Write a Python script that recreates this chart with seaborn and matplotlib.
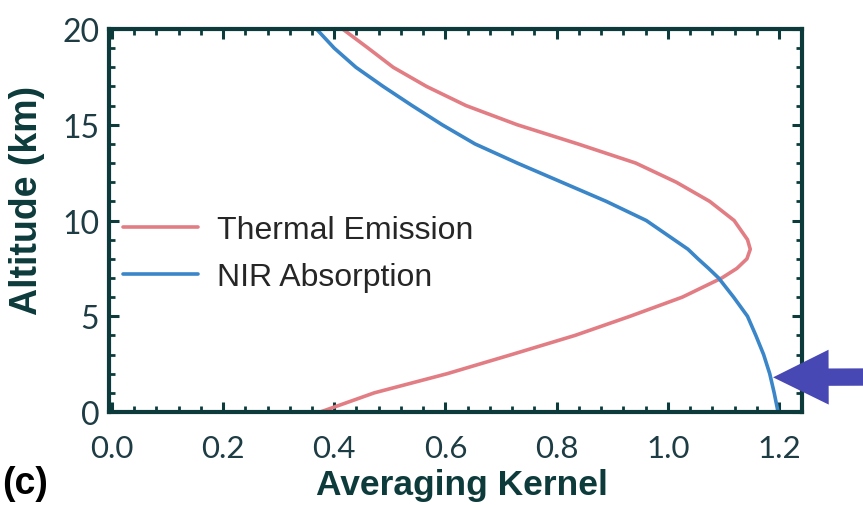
import matplotlib
matplotlib.use("Agg")
import matplotlib.pyplot as plt
from matplotlib.ticker import MultipleLocator
from matplotlib.patches import ArrowStyle
import numpy as np
import pandas as pd
import seaborn as sns

# Averaging kernel profiles versus altitude
altitude_km = [0, 1, 2, 3, 4, 5, 6, 7, 7.5, 8, 8.5, 9, 10, 11, 12, 13, 14, 15, 16, 17, 18, 19, 20]
thermal_emission = [0.375, 0.472, 0.603, 0.719, 0.833, 0.932, 1.026, 1.097, 1.124, 1.142, 1.148,
                    1.143, 1.119, 1.075, 1.015, 0.942, 0.838, 0.729, 0.637, 0.566, 0.506, 0.461, 0.415]
nir_absorption = [1.198, 1.191, 1.183, 1.172, 1.158, 1.143, 1.118, 1.091, 1.073, 1.054, 1.036,
                  1.011, 0.961, 0.889, 0.809, 0.729, 0.653, 0.594, 0.540, 0.488, 0.439, 0.400, 0.368]
series_names = ["Thermal Emission", "NIR Absorption"]
x_ticks = [0.0, 0.2, 0.4, 0.6, 0.8, 1.0, 1.2]
y_ticks = [0, 5, 10, 15, 20]

df = pd.DataFrame({
    "altitude": altitude_km * 2,
    "kernel": thermal_emission + nir_absorption,
    "series": [series_names[0]] * len(altitude_km) + [series_names[1]] * len(altitude_km),
})

sns.set_theme(style="white")
frame_col = "#0d3b3c"
tick_col = "#1e3c44"

fig = plt.figure(figsize=(8.63, 5.06), dpi=100)
ax = fig.add_axes([0.1263, 0.1838, 0.8030, 0.7569])

sns.lineplot(data=df, x="kernel", y="altitude", hue="series", orient="y", sort=False,
             palette={series_names[0]: "#e27d84", series_names[1]: "#3a86c8"},
             linewidth=2.6, ax=ax)

ax.set_xlim(-0.005, 1.241)
ax.set_ylim(0, 20)
ax.set_xticks(x_ticks)
ax.set_xticklabels([f"{v:.1f}" for v in x_ticks])
ax.set_yticks(y_ticks)
ax.xaxis.set_minor_locator(MultipleLocator(0.04))
ax.yaxis.set_minor_locator(MultipleLocator(1))

for s in ax.spines.values():
    s.set_color(frame_col)
    s.set_linewidth(3.0)
    s.set_visible(True)

ax.tick_params(which="both", direction="in", top=True, right=True, bottom=True, left=True,
               color=frame_col)
ax.tick_params(which="major", length=7, width=2.2)
ax.tick_params(which="minor", length=4, width=2.0)
ax.tick_params(axis="x", which="major", pad=16, labelsize=22.5, labelcolor=tick_col)
ax.tick_params(axis="y", which="major", pad=7, labelsize=23, labelcolor=tick_col)
for lab in ax.get_xticklabels() + ax.get_yticklabels():
    lab.set_fontfamily("Lato")

ax.set_xlabel("Averaging Kernel", fontsize=25.5, fontweight="bold", color=frame_col,
              family="Liberation Sans", va="center")
ax.set_ylabel("Altitude (km)", fontsize=27, fontweight="bold", color=frame_col,
              family="Liberation Sans", va="center")
ax.xaxis.set_label_coords(0.509, -0.190)
ax.yaxis.set_label_coords(-0.118, 0.556)

handles, labels = ax.get_legend_handles_labels()
ax.legend(handles, labels, loc="upper left", bbox_to_anchor=(0.020, 0.515), frameon=False,
          borderpad=0, borderaxespad=0, handlelength=2.34, handletextpad=0.6,
          labelspacing=0.54, prop={"family": "Liberation Sans", "size": 23})

fig.text(0.002, 0.008, "(c)", fontsize=27, fontweight="bold", color="black",
         family="Liberation Sans", ha="left", va="bottom")

# pointer to the near-surface sensitivity of the NIR kernel
ax.annotate("", xy=(1.189, 1.81), xycoords="data", xytext=(875, 128), textcoords="figure pixels",
            annotation_clip=False,
            arrowprops=dict(arrowstyle=ArrowStyle.Simple(head_length=40, head_width=39.5, tail_width=12.5),
                            mutation_scale=1, shrinkA=0, shrinkB=0, color="#4848b4", lw=0))

fig.savefig("out.png", dpi=100)
